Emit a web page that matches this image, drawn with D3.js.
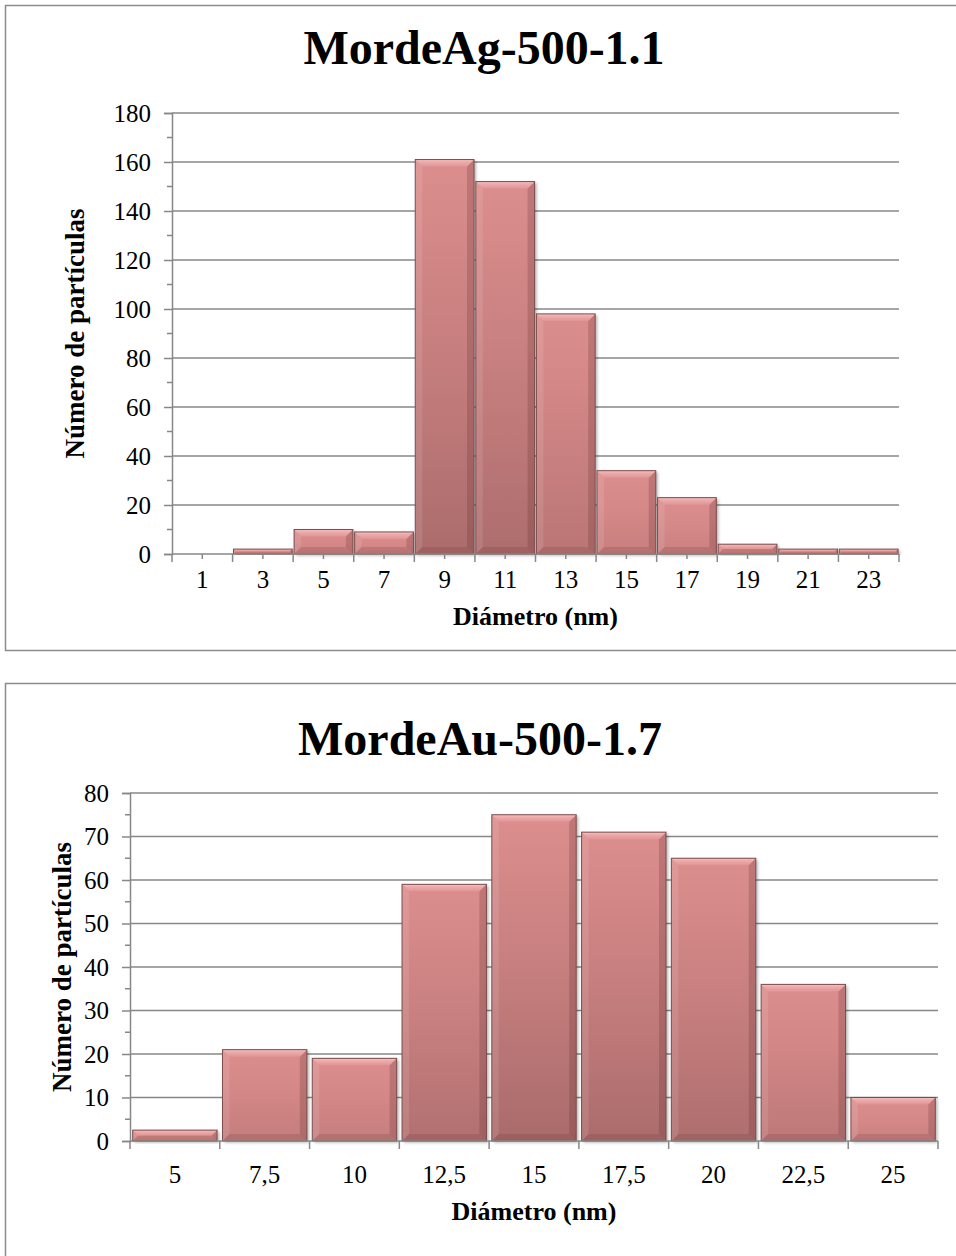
<!DOCTYPE html>
<html>
<head>
<meta charset="utf-8">
<script src="https://cdn.jsdelivr.net/npm/d3@7"></script>
<style>
  html, body { margin: 0; padding: 0; background: #ffffff; }
  svg { display: block; }
  text { font-family: "Liberation Serif", "Times New Roman", Times, serif; fill: #000; }
</style>
</head>
<body>
<svg id="page" width="956" height="1256"></svg>
<script>
// Particle size histogram, silver sample
const agTitle = "MordeAg-500-1.1";
const agCategories = ["1", "3", "5", "7", "9", "11", "13", "15", "17", "19", "21", "23"];
const agCounts = [0, 2, 10, 9, 161, 152, 98, 34, 23, 4, 2, 2];
const agYTicks = [0, 20, 40, 60, 80, 100, 120, 140, 160, 180];

// Particle size histogram, gold sample
const auTitle = "MordeAu-500-1.7";
const auCategories = ["5", "7,5", "10", "12,5", "15", "17,5", "20", "22,5", "25"];
const auCounts = [2.5, 21, 19, 59, 75, 71, 65, 36, 10];
const auYTicks = [0, 10, 20, 30, 40, 50, 60, 70, 80];

const xAxisTitle = "Diámetro (nm)";
const yAxisTitle = "Número de partículas";

const svg = d3.select("#page");
svg.append("rect").attr("width", 956).attr("height", 1256).attr("fill", "#fff");

const defs = svg.append("defs");
const shadow = defs.append("filter").attr("id", "barShadow")
  .attr("x", "-10%").attr("y", "-10%").attr("width", "130%").attr("height", "130%");
shadow.append("feDropShadow").attr("dx", 2).attr("dy", 1.5).attr("stdDeviation", 1.6)
  .attr("flood-color", "#000").attr("flood-opacity", 0.3);

const topBevel = defs.append("linearGradient").attr("id", "topBevel")
  .attr("x1", 0).attr("y1", 0).attr("x2", 0).attr("y2", 1);
topBevel.append("stop").attr("offset", 0).attr("stop-color", "#f7c4c4");
topBevel.append("stop").attr("offset", 0.35).attr("stop-color", "#eeaaaa");
topBevel.append("stop").attr("offset", 1).attr("stop-color", "#e09595");

const GRID = "#878787";
let gradCount = 0;

function drawChart(cfg) {
  const g = svg.append("g");

  // chart frame
  g.append("rect")
    .attr("x", cfg.frame.x + 0.5).attr("y", cfg.frame.y + 0.5)
    .attr("width", cfg.frame.w).attr("height", cfg.frame.h)
    .attr("fill", "none").attr("stroke", "#8c8c8c").attr("stroke-width", 1.5);

  // title
  g.append("text")
    .attr("x", cfg.titleX).attr("y", cfg.titleY)
    .attr("text-anchor", "middle")
    .style("font-size", "48px").style("font-weight", "bold")
    .text(cfg.title);

  const x = d3.scaleBand().domain(cfg.categories).range([cfg.left, cfg.right]).padding(0);
  const y = d3.scaleLinear().domain([0, d3.max(cfg.yTicks)]).range([cfg.bottom, cfg.top]);
  const step = cfg.yTicks[1] - cfg.yTicks[0];

  // horizontal gridlines
  g.append("g").selectAll("line").data(cfg.yTicks.filter(d => d > 0)).join("line")
    .attr("x1", cfg.left).attr("x2", cfg.right)
    .attr("y1", d => y(d)).attr("y2", d => y(d))
    .attr("stroke", GRID).attr("stroke-width", 1.5);

  // y axis with major ticks
  const yAxis = g.append("g").attr("transform", `translate(${cfg.left},0)`)
    .call(d3.axisLeft(y).tickValues(cfg.yTicks).tickSize(8).tickPadding(13).tickFormat(d3.format("d")));
  yAxis.select(".domain").attr("stroke", GRID).attr("stroke-width", 1.5);
  yAxis.selectAll(".tick line").attr("stroke", GRID).attr("stroke-width", 1.5);
  yAxis.selectAll(".tick text").style("font-size", "25px")
    .style("font-family", "'Liberation Serif', 'Times New Roman', serif").attr("fill", "#000");

  // y minor ticks
  const minor = cfg.yTicks.slice(0, -1).map(d => d + step / 2);
  g.append("g").selectAll("line").data(minor).join("line")
    .attr("x1", cfg.left - 5).attr("x2", cfg.left)
    .attr("y1", d => y(d)).attr("y2", d => y(d))
    .attr("stroke", GRID).attr("stroke-width", 1.5);

  // bars with bevel
  const bars = g.append("g");
  const gap = x.bandwidth() * cfg.barGap;
  cfg.categories.forEach((c, i) => {
    const v = cfg.values[i];
    if (!v) return;
    const bx = x(c) + gap, bw = x.bandwidth() - 2 * gap;
    const by = y(v), bh = y(0) - y(v);
    const frac = bh / (cfg.bottom - cfg.top);
    const id = "barFill" + (gradCount++);
    const lg = defs.append("linearGradient").attr("id", id)
      .attr("x1", 0).attr("y1", 0).attr("x2", 0).attr("y2", 1);
    lg.append("stop").attr("offset", 0).attr("stop-color", "#dc8e8e");
    lg.append("stop").attr("offset", 0.4)
      .attr("stop-color", d3.interpolateRgb("#d98b8b", "#c98080")(frac));
    lg.append("stop").attr("offset", 1)
      .attr("stop-color", d3.interpolateRgb("#cf8484", "#a86969")(frac));

    const bar = bars.append("g");
    bar.append("rect").attr("x", bx).attr("y", by).attr("width", bw).attr("height", bh)
      .attr("fill", `url(#${id})`).attr("filter", "url(#barShadow)");
    const b = Math.min(7, bh / 2);
    // left bevel
    bar.append("polygon")
      .attr("points", [[bx, by], [bx + b, by + b], [bx + b, by + bh - b], [bx, by + bh]].join(" "))
      .attr("fill", "rgba(255,255,255,0.10)");
    // right bevel
    bar.append("polygon")
      .attr("points", [[bx + bw, by], [bx + bw - b, by + b], [bx + bw - b, by + bh - b], [bx + bw, by + bh]].join(" "))
      .attr("fill", "rgba(90,35,35,0.22)");
    // bottom bevel
    bar.append("polygon")
      .attr("points", [[bx, by + bh], [bx + b, by + bh - b], [bx + bw - b, by + bh - b], [bx + bw, by + bh]].join(" "))
      .attr("fill", "rgba(90,35,35,0.16)");
    // top bevel
    bar.append("polygon")
      .attr("points", [[bx, by], [bx + bw, by], [bx + bw - b, by + b], [bx + b, by + b]].join(" "))
      .attr("fill", "url(#topBevel)");
    bar.append("rect").attr("x", bx).attr("y", by).attr("width", bw).attr("height", bh)
      .attr("fill", "none").attr("stroke", "#7a4c4c").attr("stroke-width", 1);
  });

  // x axis line
  g.append("line")
    .attr("x1", cfg.left).attr("x2", cfg.right)
    .attr("y1", cfg.bottom).attr("y2", cfg.bottom)
    .attr("stroke", GRID).attr("stroke-width", 1.5);

  // x ticks at band boundaries
  const bounds = cfg.categories.map(c => x(c)).concat([cfg.right]);
  g.append("g").selectAll("line").data(bounds).join("line")
    .attr("x1", d => d).attr("x2", d => d)
    .attr("y1", cfg.bottom).attr("y2", cfg.bottom + 8)
    .attr("stroke", GRID).attr("stroke-width", 1.5);
  if (cfg.centerTicks) {
    g.append("g").selectAll("line").data(cfg.categories).join("line")
      .attr("x1", d => x(d) + x.bandwidth() / 2).attr("x2", d => x(d) + x.bandwidth() / 2)
      .attr("y1", cfg.bottom).attr("y2", cfg.bottom + 5)
      .attr("stroke", GRID).attr("stroke-width", 1.5);
  }

  // x labels
  g.append("g").selectAll("text").data(cfg.categories).join("text")
    .attr("x", d => x(d) + x.bandwidth() / 2).attr("y", cfg.xLabelY)
    .attr("text-anchor", "middle").style("font-size", "25px")
    .text(d => d);

  // axis titles
  g.append("text")
    .attr("x", (cfg.left + cfg.right) / 2).attr("y", cfg.xTitleY)
    .attr("text-anchor", "middle").style("font-size", "26px").style("font-weight", "bold")
    .text(xAxisTitle);
  g.append("text")
    .attr("transform", `translate(${cfg.yTitleX},${(cfg.top + cfg.bottom) / 2}) rotate(-90)`)
    .attr("text-anchor", "middle").style("font-size", "27px").style("font-weight", "bold")
    .text(yAxisTitle);
}

drawChart({
  title: agTitle, categories: agCategories, values: agCounts, yTicks: agYTicks,
  frame: { x: 5, y: 5, w: 960, h: 645 },
  titleX: 484, titleY: 64,
  left: 172, right: 899, top: 113, bottom: 554,
  barGap: 0.015, centerTicks: true,
  xLabelY: 588, xTitleY: 625, yTitleX: 84
});

drawChart({
  title: auTitle, categories: auCategories, values: auCounts, yTicks: auYTicks,
  frame: { x: 5, y: 683, w: 960, h: 620 },
  titleX: 480, titleY: 755,
  left: 130, right: 938, top: 793, bottom: 1141,
  barGap: 0.03, centerTicks: false,
  xLabelY: 1183, xTitleY: 1220, yTitleX: 71
});
</script>
</body>
</html>
